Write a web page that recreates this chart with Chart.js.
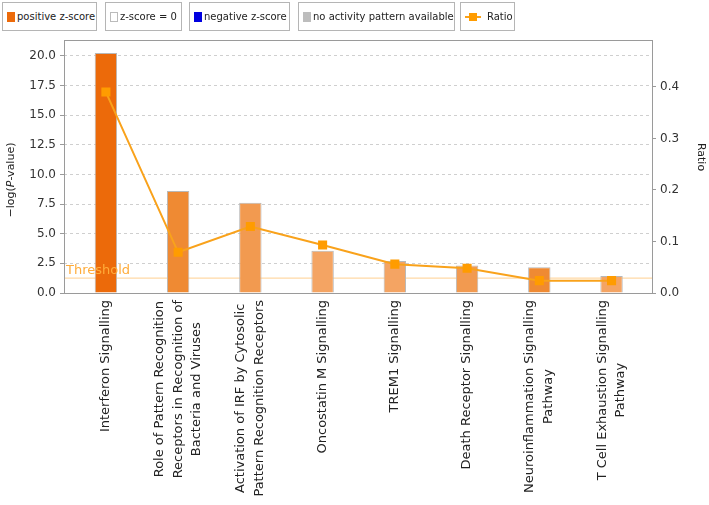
<!DOCTYPE html>
<html>
<head>
<meta charset="utf-8">
<script src="https://cdn.jsdelivr.net/npm/chart.js@4.4.0/dist/chart.umd.min.js"></script>
<style>
    body { margin: 0; background: #fff; }
    #wrap { position: relative; width: 709px; height: 505px; }
    #chart { position: absolute; left: 0; top: 0; }
    .leg { position: absolute; top: 2px; height: 29px; border: 1px solid #b5b5b5; background: #fff;
           font-family: "DejaVu Sans", sans-serif; font-size: 10px; color: #222; line-height: 28px;
           box-sizing: border-box; }
    .sw { position: absolute; top: 9px; width: 8px; height: 10px; left: 4px; }
    .leg span.t { position: absolute; left: 14px; top: 0; white-space: nowrap; }
</style>
</head>
<body>
<div id="wrap">
    <canvas id="chart" width="709" height="505"></canvas>
    <div class="leg" style="left:2px;width:95px"><div class="sw" style="background:#ec6a0a"></div><span class="t">positive z-score</span></div>
    <div class="leg" style="left:105px;width:77px"><div class="sw" style="background:#fff;border:1px solid #bbb;width:6px;height:8px"></div><span class="t">z-score = 0</span></div>
    <div class="leg" style="left:189px;width:101px"><div class="sw" style="background:#0000e0"></div><span class="t">negative z-score</span></div>
    <div class="leg" style="left:298px;width:157px"><div class="sw" style="background:#bdbdbd"></div><span class="t">no activity pattern available</span></div>
    <div class="leg" style="left:460px;width:55px">
        <div style="position:absolute;left:4px;top:13px;width:16px;height:2px;background:#f9a21b"></div>
        <div style="position:absolute;left:8px;top:10px;width:8px;height:8px;background:#ff9c00"></div>
        <span class="t" style="left:26px">Ratio</span>
    </div>
</div>
<script>
const categories = [
    ["Interferon Signalling"],
    ["Role of Pattern Recognition", "Receptors in Recognition of", "Bacteria and Viruses"],
    ["Activation of IRF by Cytosolic", "Pattern Recognition Receptors"],
    ["Oncostatin M Signalling"],
    ["TREM1 Signalling"],
    ["Death Receptor Signalling"],
    ["Neuroinflammation Signalling", "Pathway"],
    ["T Cell Exhaustion Signalling", "Pathway"]
];
const logP = [20.25, 8.6, 7.62, 3.57, 2.7, 2.33, 2.17, 1.43];
const ratio = [0.39, 0.079, 0.129, 0.093, 0.056, 0.048, 0.024, 0.024];
const barColors = ["#ec6a0a", "#ef8a33", "#f29a50", "#f4a463", "#f4a463", "#f29a50", "#ef8a33", "#f4a463"];
const threshold = 1.3;

const FONT = '"DejaVu Sans", sans-serif';

const framePlugin = {
    id: 'frame',
    beforeDatasetsDraw(chart) {
        const ctx = chart.ctx, a = chart.chartArea;
        const y = chart.scales.y.getPixelForValue(threshold);
        ctx.save();
        ctx.strokeStyle = '#ffcf8f';
        ctx.lineWidth = 1;
        ctx.beginPath();
        ctx.moveTo(a.left, y + 0.5);
        ctx.lineTo(a.right, y + 0.5);
        ctx.stroke();
        ctx.restore();
    },
    afterDraw(chart) {
        const ctx = chart.ctx, a = chart.chartArea;
        ctx.save();
        ctx.strokeStyle = '#9a9a9a';
        ctx.lineWidth = 1;
        ctx.strokeRect(a.left + 0.5, a.top + 0.5, a.right - a.left, a.bottom - a.top);

        // threshold label sits on top of the bars
        const ty = chart.scales.y.getPixelForValue(threshold);
        ctx.fillStyle = '#ffac3a';
        ctx.font = '13px ' + FONT;
        ctx.textBaseline = 'alphabetic';
        ctx.fillText('Threshold', a.left + 2, ty - 4);

        // x labels, rotated, lines centred on each other
        ctx.fillStyle = '#222';
        ctx.font = '13px ' + FONT;
        const lh = 18.5;
        categories.forEach(function (lines, i) {
            const cx = chart.scales.x.getPixelForValue(i);
            let maxW = 0;
            lines.forEach(function (l) { maxW = Math.max(maxW, ctx.measureText(l).width); });
            ctx.save();
            ctx.translate(cx - (lines.length - 1) * lh / 2, a.bottom + 7);
            ctx.rotate(-Math.PI / 2);
            ctx.textAlign = 'center';
            ctx.textBaseline = 'middle';
            lines.forEach(function (l, k) {
                ctx.fillText(l, -maxW / 2, k * lh);
            });
            ctx.restore();
        });

        // left axis title with italic P
        ctx.save();
        ctx.translate(11, 180);
        ctx.rotate(-Math.PI / 2);
        ctx.textBaseline = 'middle';
        const parts = [['\u2212log(', '11px ' + FONT], ['P', 'italic 11px ' + FONT], ['-value)', '11px ' + FONT]];
        let total = 0;
        parts.forEach(function (p) { ctx.font = p[1]; total += ctx.measureText(p[0]).width; });
        let x = -total / 2;
        parts.forEach(function (p) { ctx.font = p[1]; ctx.fillText(p[0], x, 0); x += ctx.measureText(p[0]).width; });
        ctx.restore();

        // right axis title
        ctx.save();
        ctx.translate(701, 157);
        ctx.rotate(Math.PI / 2);
        ctx.textAlign = 'center';
        ctx.textBaseline = 'middle';
        ctx.font = '11px ' + FONT;
        ctx.fillText('Ratio', 0, 0);
        ctx.restore();
        ctx.restore();
    }
};

new Chart("chart", {
    data: {
        datasets: [{
            type: 'line',
            label: 'Ratio',
            data: ratio.map(function (v, i) { return {x: i, y: v}; }),
            yAxisID: 'y1',
            borderColor: '#f9a21b',
            borderWidth: 2,
            pointStyle: 'rect',
            pointRadius: 5,
            pointBackgroundColor: '#ff9c00',
            pointBorderColor: '#ff9c00',
            tension: 0,
            order: 0
        }, {
            type: 'bar',
            label: '-log(p-value)',
            data: logP.map(function (v, i) { return {x: i, y: v}; }),
            yAxisID: 'y',
            backgroundColor: barColors,
            borderColor: '#b8b8b8',
            borderWidth: 1,
            barPercentage: 0.31,
            categoryPercentage: 1,
            order: 1
        }]
    },
    options: {
        responsive: false,
        animation: false,
        layout: { padding: { top: 40, left: 0, right: 0, bottom: 0 } },
        plugins: { legend: { display: false }, tooltip: { enabled: false } },
        scales: {
            x: {
                type: 'linear',
                min: -0.58,
                max: 7.56,
                offset: false,
                ticks: { display: false },
                grid: { display: false },
                border: { display: false },
                afterFit: function (s) { s.height = 212; }
            },
            y: {
                position: 'left',
                min: 0,
                max: 21.35,
                ticks: {
                    stepSize: 2.5,
                    includeBounds: false,
                    padding: 4,
                    color: '#333',
                    font: { family: FONT, size: 12 },
                    callback: function (v) { return v.toFixed(1); }
                },
                grid: { color: '#cfcfcf', tickColor: '#9a9a9a', tickLength: 4, tickBorderDash: [] },
                border: { display: false, dash: [3, 3] },
                afterFit: function (s) { s.width = 64; }
            },
            y1: {
                position: 'right',
                min: 0,
                max: 0.491,
                ticks: {
                    stepSize: 0.1,
                    includeBounds: false,
                    padding: 4,
                    color: '#333',
                    font: { family: FONT, size: 12 },
                    callback: function (v) { return v.toFixed(1); }
                },
                grid: { drawOnChartArea: false, tickColor: '#9a9a9a', tickLength: 4 },
                border: { display: false },
                afterFit: function (s) { s.width = 57; }
            }
        }
    },
    plugins: [framePlugin]
});
</script>
</body>
</html>
